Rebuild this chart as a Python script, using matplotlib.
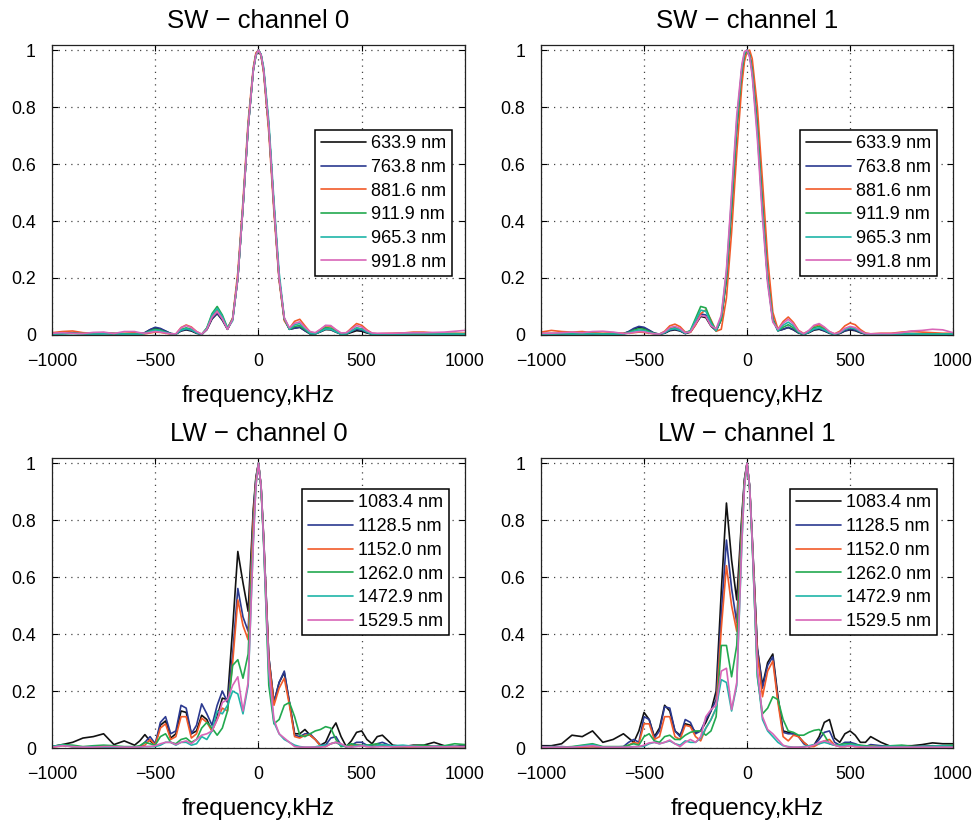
import matplotlib
matplotlib.use('Agg')
import matplotlib.pyplot as plt

plt.rcParams['font.family'] = ['Liberation Sans', 'DejaVu Sans']

# frequency grid (kHz): coarse in the wings, finer around the main lobe
freq = [-1000, -950, -900, -850, -800, -750, -700, -650,
        -600, -575, -550, -525, -500, -475, -450,
        -425, -400, -375, -350, -325, -300, -275,
        -250, -225, -200, -175, -150, -125, -100,
        -75, -50, -25, -12.5, 0, 12.5, 25, 50, 75,
        100, 125, 150, 175, 200, 225, 250,
        275, 300, 325, 350, 375, 400, 425,
        450, 475, 500, 525, 550, 575, 600,
        650, 700, 750, 800, 850, 900, 950, 1000]

sw_labels = ['633.9 nm', '763.8 nm', '881.6 nm', '911.9 nm', '965.3 nm', '991.8 nm']
lw_labels = ['1083.4 nm', '1128.5 nm', '1152.0 nm', '1262.0 nm', '1472.9 nm', '1529.5 nm']

# ---------------- SW, channel 0 ----------------
sw0_633 = [0.005, 0.006, 0.008, 0.006, 0.004, 0.006, 0.005, 0.004,
           0.003, 0.004, 0.008, 0.018, 0.025, 0.021, 0.013,
           0.005, 0.003, 0.014, 0.018, 0.014, 0.006, 0.002,
           0.019, 0.056, 0.075, 0.052, 0.020, 0.055, 0.200,
           0.450, 0.730, 0.930, 0.983, 1.000, 0.983, 0.930, 0.730, 0.450,
           0.200, 0.055, 0.020, 0.024, 0.027, 0.015, 0.004,
           0.004, 0.011, 0.019, 0.018, 0.010, 0.003, 0.003,
           0.009, 0.015, 0.013, 0.007, 0.003, 0.003, 0.003,
           0.004, 0.005, 0.006, 0.005, 0.004, 0.005, 0.005, 0.004]
sw0_763 = [0.004, 0.005, 0.006, 0.005, 0.004, 0.005, 0.004, 0.004,
           0.003, 0.004, 0.008, 0.019, 0.027, 0.023, 0.014,
           0.005, 0.003, 0.015, 0.020, 0.016, 0.007, 0.002,
           0.019, 0.058, 0.077, 0.054, 0.020, 0.055, 0.200,
           0.450, 0.730, 0.930, 0.983, 1.000, 0.983, 0.930, 0.730, 0.450,
           0.200, 0.055, 0.020, 0.024, 0.027, 0.015, 0.004,
           0.004, 0.012, 0.021, 0.020, 0.011, 0.003, 0.004,
           0.012, 0.020, 0.017, 0.009, 0.003, 0.003, 0.003,
           0.004, 0.004, 0.005, 0.005, 0.004, 0.004, 0.004, 0.004]
sw0_881 = [0.008, 0.012, 0.014, 0.008, 0.006, 0.008, 0.005, 0.006,
           0.008, 0.005, 0.004, 0.007, 0.010, 0.009, 0.006,
           0.003, 0.003, 0.026, 0.035, 0.028, 0.012, 0.002,
           0.022, 0.065, 0.087, 0.060, 0.022, 0.060, 0.220,
           0.470, 0.750, 0.940, 0.990, 1.000, 0.980, 0.920, 0.710, 0.430,
           0.190, 0.050, 0.023, 0.048, 0.055, 0.032, 0.010,
           0.006, 0.019, 0.032, 0.031, 0.017, 0.005, 0.007,
           0.024, 0.040, 0.034, 0.018, 0.006, 0.004, 0.005,
           0.006, 0.007, 0.010, 0.010, 0.007, 0.005, 0.005, 0.006]
sw0_911 = [0.004, 0.005, 0.006, 0.005, 0.004, 0.005, 0.005, 0.004,
           0.003, 0.003, 0.006, 0.014, 0.020, 0.017, 0.010,
           0.004, 0.003, 0.019, 0.025, 0.020, 0.009, 0.002,
           0.025, 0.075, 0.100, 0.070, 0.025, 0.057, 0.200,
           0.450, 0.730, 0.930, 0.983, 1.000, 0.983, 0.930, 0.730, 0.450,
           0.200, 0.057, 0.020, 0.030, 0.033, 0.019, 0.005,
           0.004, 0.015, 0.026, 0.024, 0.013, 0.003, 0.004,
           0.015, 0.025, 0.021, 0.011, 0.003, 0.003, 0.003,
           0.003, 0.004, 0.004, 0.004, 0.003, 0.004, 0.004, 0.004]
sw0_965 = [0.003, 0.004, 0.005, 0.004, 0.003, 0.004, 0.004, 0.003,
           0.003, 0.003, 0.005, 0.012, 0.017, 0.014, 0.009,
           0.004, 0.003, 0.017, 0.022, 0.018, 0.008, 0.002,
           0.023, 0.070, 0.093, 0.065, 0.023, 0.050, 0.200,
           0.450, 0.730, 0.930, 0.980, 1.000, 0.985, 0.940, 0.750, 0.470,
           0.220, 0.060, 0.020, 0.036, 0.040, 0.023, 0.006,
           0.004, 0.012, 0.021, 0.020, 0.011, 0.003, 0.004,
           0.014, 0.024, 0.020, 0.011, 0.003, 0.003, 0.003,
           0.003, 0.003, 0.004, 0.004, 0.003, 0.003, 0.003, 0.003]
sw0_991 = [0.006, 0.008, 0.006, 0.005, 0.009, 0.010, 0.005, 0.012,
           0.012, 0.008, 0.006, 0.009, 0.012, 0.010, 0.007,
           0.004, 0.004, 0.025, 0.033, 0.026, 0.012, 0.003,
           0.020, 0.062, 0.082, 0.057, 0.020, 0.055, 0.200,
           0.450, 0.730, 0.930, 0.983, 1.000, 0.983, 0.930, 0.730, 0.450,
           0.200, 0.060, 0.025, 0.041, 0.046, 0.027, 0.012,
           0.008, 0.020, 0.034, 0.033, 0.019, 0.007, 0.008,
           0.020, 0.033, 0.028, 0.015, 0.007, 0.006, 0.006,
           0.006, 0.007, 0.008, 0.008, 0.009, 0.010, 0.013, 0.016]

# ---------------- SW, channel 1 ----------------
sw1_633 = [0.005, 0.005, 0.004, 0.004, 0.005, 0.004, 0.004, 0.004,
           0.004, 0.011, 0.020, 0.027, 0.024, 0.015, 0.006,
           0.003, 0.006, 0.015, 0.018, 0.014, 0.005, 0.010,
           0.037, 0.065, 0.061, 0.031, 0.015, 0.055, 0.200,
           0.450, 0.730, 0.930, 0.983, 1.000, 0.983, 0.930, 0.730, 0.450,
           0.200, 0.055, 0.015, 0.020, 0.026, 0.018, 0.007,
           0.002, 0.008, 0.017, 0.020, 0.014, 0.006, 0.002,
           0.005, 0.014, 0.018, 0.015, 0.008, 0.003, 0.002,
           0.003, 0.004, 0.005, 0.005, 0.004, 0.004, 0.004, 0.004]
sw1_763 = [0.004, 0.004, 0.004, 0.004, 0.004, 0.004, 0.004, 0.004,
           0.005, 0.012, 0.023, 0.030, 0.027, 0.017, 0.006,
           0.003, 0.007, 0.017, 0.020, 0.015, 0.005, 0.012,
           0.043, 0.074, 0.070, 0.035, 0.015, 0.055, 0.200,
           0.450, 0.730, 0.930, 0.983, 1.000, 0.983, 0.930, 0.730, 0.450,
           0.200, 0.055, 0.015, 0.020, 0.027, 0.019, 0.007,
           0.002, 0.009, 0.019, 0.022, 0.015, 0.007, 0.002,
           0.006, 0.015, 0.020, 0.017, 0.009, 0.003, 0.002,
           0.003, 0.003, 0.004, 0.004, 0.004, 0.003, 0.003, 0.003]
sw1_881 = [0.010, 0.016, 0.012, 0.010, 0.012, 0.008, 0.006, 0.008,
           0.006, 0.006, 0.008, 0.010, 0.009, 0.006, 0.004,
           0.003, 0.013, 0.032, 0.038, 0.029, 0.010, 0.009,
           0.035, 0.075, 0.088, 0.053, 0.013, 0.020, 0.130,
           0.360, 0.640, 0.880, 0.960, 0.995, 1.000, 0.970, 0.800, 0.540,
           0.270, 0.080, 0.020, 0.047, 0.063, 0.044, 0.016,
           0.005, 0.014, 0.031, 0.036, 0.025, 0.011, 0.004,
           0.013, 0.032, 0.042, 0.036, 0.019, 0.007, 0.004,
           0.006, 0.006, 0.010, 0.013, 0.010, 0.008, 0.006, 0.006]
sw1_911 = [0.004, 0.004, 0.005, 0.004, 0.004, 0.005, 0.004, 0.004,
           0.004, 0.009, 0.017, 0.022, 0.020, 0.012, 0.005,
           0.003, 0.009, 0.022, 0.026, 0.020, 0.007, 0.016,
           0.058, 0.100, 0.095, 0.048, 0.015, 0.055, 0.200,
           0.450, 0.730, 0.930, 0.983, 1.000, 0.983, 0.930, 0.730, 0.450,
           0.200, 0.055, 0.015, 0.027, 0.036, 0.025, 0.009,
           0.002, 0.012, 0.026, 0.030, 0.021, 0.009, 0.002,
           0.008, 0.020, 0.026, 0.022, 0.012, 0.004, 0.002,
           0.003, 0.003, 0.004, 0.004, 0.004, 0.003, 0.004, 0.004]
sw1_965 = [0.003, 0.003, 0.004, 0.003, 0.003, 0.004, 0.003, 0.003,
           0.003, 0.007, 0.013, 0.017, 0.015, 0.009, 0.004,
           0.003, 0.008, 0.019, 0.022, 0.017, 0.006, 0.014,
           0.051, 0.087, 0.083, 0.041, 0.015, 0.065, 0.220,
           0.480, 0.750, 0.940, 0.990, 1.000, 0.980, 0.920, 0.710, 0.430,
           0.190, 0.050, 0.015, 0.034, 0.045, 0.032, 0.011,
           0.002, 0.010, 0.021, 0.025, 0.018, 0.008, 0.002,
           0.008, 0.020, 0.026, 0.022, 0.012, 0.004, 0.002,
           0.003, 0.003, 0.003, 0.004, 0.003, 0.003, 0.003, 0.003]
sw1_991 = [0.006, 0.006, 0.008, 0.010, 0.008, 0.012, 0.013, 0.010,
           0.005, 0.006, 0.009, 0.012, 0.011, 0.007, 0.004,
           0.003, 0.011, 0.026, 0.030, 0.023, 0.008, 0.011,
           0.040, 0.068, 0.065, 0.032, 0.022, 0.070, 0.230,
           0.500, 0.770, 0.950, 0.995, 1.000, 0.975, 0.910, 0.690, 0.410,
           0.180, 0.045, 0.020, 0.041, 0.055, 0.039, 0.014,
           0.004, 0.016, 0.034, 0.040, 0.028, 0.012, 0.004,
           0.009, 0.023, 0.030, 0.026, 0.014, 0.005, 0.004,
           0.005, 0.005, 0.008, 0.014, 0.016, 0.020, 0.018, 0.008]

# ---------------- LW, channel 0 ----------------
lw0_1083 = [0.005, 0.012, 0.020, 0.035, 0.040, 0.050, 0.012, 0.025,
            0.010, 0.025, 0.047, 0.025, 0.010, 0.080, 0.095,
            0.035, 0.050, 0.130, 0.125, 0.050, 0.060, 0.115,
            0.100, 0.060, 0.110, 0.175, 0.170, 0.420, 0.690,
            0.580, 0.480, 0.840, 0.950, 1.000, 0.920, 0.740, 0.320, 0.160,
            0.230, 0.265, 0.160, 0.050, 0.050, 0.065, 0.045,
            0.030, 0.010, 0.020, 0.060, 0.088, 0.040, 0.005,
            0.025, 0.055, 0.060, 0.030, 0.015, 0.040, 0.045,
            0.010, 0.005, 0.010, 0.010, 0.020, 0.008, 0.005, 0.010]
lw0_1128 = [0.005, 0.010, 0.005, 0.003, 0.003, 0.003, 0.003, 0.003,
            0.003, 0.005, 0.020, 0.040, 0.015, 0.090, 0.110,
            0.050, 0.060, 0.150, 0.140, 0.050, 0.080, 0.155,
            0.120, 0.080, 0.150, 0.200, 0.160, 0.330, 0.560,
            0.460, 0.410, 0.820, 0.945, 1.000, 0.920, 0.740, 0.320, 0.160,
            0.230, 0.270, 0.160, 0.045, 0.040, 0.050, 0.050,
            0.030, 0.010, 0.010, 0.035, 0.040, 0.010, 0.004,
            0.010, 0.020, 0.020, 0.010, 0.008, 0.015, 0.020,
            0.005, 0.004, 0.005, 0.005, 0.006, 0.005, 0.005, 0.005]
lw0_1152 = [0.003, 0.008, 0.005, 0.003, 0.003, 0.003, 0.003, 0.003,
            0.003, 0.004, 0.010, 0.030, 0.010, 0.070, 0.085,
            0.030, 0.040, 0.110, 0.110, 0.035, 0.050, 0.105,
            0.090, 0.060, 0.100, 0.140, 0.130, 0.300, 0.520,
            0.430, 0.380, 0.800, 0.940, 1.000, 0.915, 0.730, 0.310, 0.150,
            0.210, 0.245, 0.150, 0.040, 0.035, 0.045, 0.045,
            0.030, 0.008, 0.005, 0.015, 0.020, 0.010, 0.005,
            0.008, 0.012, 0.010, 0.005, 0.005, 0.010, 0.012,
            0.004, 0.004, 0.004, 0.004, 0.004, 0.004, 0.004, 0.004]
lw0_1262 = [0.005, 0.012, 0.010, 0.005, 0.008, 0.010, 0.008, 0.005,
            0.005, 0.008, 0.020, 0.015, 0.010, 0.040, 0.050,
            0.020, 0.015, 0.030, 0.035, 0.020, 0.030, 0.070,
            0.090, 0.070, 0.045, 0.070, 0.130, 0.290, 0.310,
            0.245, 0.330, 0.750, 0.930, 1.000, 0.915, 0.720, 0.220, 0.085,
            0.100, 0.150, 0.160, 0.110, 0.045, 0.040, 0.050,
            0.060, 0.065, 0.075, 0.070, 0.030, 0.005, 0.008,
            0.015, 0.010, 0.008, 0.010, 0.012, 0.015, 0.010,
            0.005, 0.005, 0.008, 0.010, 0.005, 0.008, 0.015, 0.012]
lw0_1472 = [0.005, 0.010, 0.005, 0.003, 0.005, 0.003, 0.003, 0.003,
            0.003, 0.003, 0.005, 0.005, 0.005, 0.010, 0.020,
            0.020, 0.010, 0.020, 0.020, 0.010, 0.015, 0.040,
            0.030, 0.060, 0.130, 0.120, 0.150, 0.200, 0.190,
            0.120, 0.220, 0.720, 0.920, 1.000, 0.915, 0.720, 0.260, 0.090,
            0.050, 0.030, 0.020, 0.010, 0.005, 0.003, 0.003,
            0.004, 0.008, 0.010, 0.015, 0.020, 0.010, 0.005,
            0.005, 0.008, 0.010, 0.008, 0.005, 0.008, 0.012,
            0.008, 0.010, 0.006, 0.004, 0.005, 0.005, 0.006, 0.005]
lw0_1529 = [0.003, 0.008, 0.005, 0.003, 0.003, 0.005, 0.005, 0.003,
            0.003, 0.004, 0.005, 0.005, 0.008, 0.015, 0.020,
            0.020, 0.012, 0.020, 0.025, 0.015, 0.030, 0.045,
            0.050, 0.060, 0.100, 0.160, 0.170, 0.220, 0.250,
            0.130, 0.230, 0.720, 0.920, 1.000, 0.920, 0.730, 0.280, 0.100,
            0.050, 0.035, 0.020, 0.005, 0.003, 0.003, 0.003,
            0.003, 0.003, 0.005, 0.015, 0.020, 0.015, 0.005,
            0.003, 0.005, 0.008, 0.005, 0.003, 0.004, 0.005,
            0.004, 0.005, 0.005, 0.004, 0.005, 0.004, 0.005, 0.005]

# ---------------- LW, channel 1 ----------------
lw1_1083 = [0.008, 0.008, 0.015, 0.045, 0.040, 0.060, 0.020, 0.030,
            0.050, 0.035, 0.020, 0.060, 0.125, 0.100, 0.040,
            0.070, 0.150, 0.130, 0.060, 0.045, 0.085, 0.080,
            0.055, 0.060, 0.090, 0.130, 0.200, 0.550, 0.860,
            0.660, 0.520, 0.820, 0.945, 1.000, 0.920, 0.740, 0.350, 0.220,
            0.300, 0.330, 0.180, 0.060, 0.055, 0.050, 0.040,
            0.020, 0.005, 0.010, 0.040, 0.090, 0.100, 0.035,
            0.020, 0.050, 0.060, 0.045, 0.020, 0.020, 0.040,
            0.020, 0.005, 0.008, 0.008, 0.012, 0.018, 0.015, 0.015]
lw1_1128 = [0.005, 0.005, 0.005, 0.003, 0.005, 0.005, 0.003, 0.003,
            0.005, 0.020, 0.030, 0.020, 0.110, 0.100, 0.035,
            0.060, 0.145, 0.140, 0.060, 0.040, 0.100, 0.090,
            0.050, 0.060, 0.100, 0.130, 0.170, 0.470, 0.730,
            0.560, 0.440, 0.800, 0.940, 1.000, 0.920, 0.740, 0.350, 0.210,
            0.290, 0.320, 0.170, 0.055, 0.050, 0.050, 0.040,
            0.015, 0.005, 0.010, 0.030, 0.055, 0.060, 0.020,
            0.010, 0.020, 0.020, 0.015, 0.008, 0.005, 0.012,
            0.008, 0.005, 0.005, 0.005, 0.006, 0.008, 0.006, 0.006]
lw1_1152 = [0.003, 0.003, 0.003, 0.003, 0.003, 0.005, 0.003, 0.003,
            0.003, 0.010, 0.020, 0.015, 0.085, 0.085, 0.030,
            0.040, 0.110, 0.110, 0.040, 0.030, 0.080, 0.075,
            0.040, 0.025, 0.070, 0.100, 0.140, 0.420, 0.640,
            0.500, 0.410, 0.790, 0.935, 1.000, 0.915, 0.730, 0.330, 0.180,
            0.270, 0.305, 0.160, 0.040, 0.025, 0.045, 0.040,
            0.020, 0.005, 0.005, 0.015, 0.025, 0.030, 0.010,
            0.005, 0.005, 0.008, 0.005, 0.003, 0.003, 0.008,
            0.003, 0.003, 0.004, 0.004, 0.004, 0.005, 0.004, 0.004]
lw1_1262 = [0.003, 0.005, 0.003, 0.005, 0.010, 0.015, 0.005, 0.005,
            0.005, 0.010, 0.015, 0.010, 0.040, 0.050, 0.025,
            0.020, 0.040, 0.045, 0.030, 0.030, 0.045, 0.055,
            0.060, 0.060, 0.045, 0.060, 0.110, 0.360, 0.360,
            0.250, 0.360, 0.770, 0.930, 1.000, 0.915, 0.720, 0.250, 0.120,
            0.140, 0.180, 0.170, 0.100, 0.060, 0.055, 0.045,
            0.045, 0.055, 0.062, 0.065, 0.045, 0.015, 0.010,
            0.012, 0.015, 0.015, 0.012, 0.010, 0.008, 0.006,
            0.005, 0.008, 0.010, 0.006, 0.005, 0.006, 0.008, 0.010]
lw1_1472 = [0.003, 0.003, 0.003, 0.003, 0.008, 0.012, 0.003, 0.003,
            0.003, 0.003, 0.005, 0.005, 0.006, 0.015, 0.020,
            0.015, 0.020, 0.025, 0.015, 0.010, 0.025, 0.020,
            0.020, 0.035, 0.070, 0.100, 0.140, 0.240, 0.230,
            0.130, 0.220, 0.720, 0.920, 1.000, 0.915, 0.720, 0.260, 0.100,
            0.060, 0.040, 0.020, 0.008, 0.005, 0.003, 0.003,
            0.005, 0.008, 0.012, 0.015, 0.020, 0.015, 0.010,
            0.008, 0.010, 0.012, 0.010, 0.006, 0.005, 0.005,
            0.005, 0.006, 0.005, 0.004, 0.005, 0.006, 0.008, 0.005]
lw1_1529 = [0.003, 0.003, 0.003, 0.003, 0.005, 0.008, 0.003, 0.003,
            0.003, 0.003, 0.004, 0.005, 0.010, 0.018, 0.020,
            0.015, 0.020, 0.028, 0.015, 0.005, 0.020, 0.030,
            0.020, 0.040, 0.110, 0.135, 0.150, 0.270, 0.280,
            0.135, 0.230, 0.730, 0.920, 1.000, 0.920, 0.730, 0.280, 0.110,
            0.065, 0.050, 0.030, 0.010, 0.003, 0.003, 0.003,
            0.003, 0.005, 0.010, 0.020, 0.025, 0.020, 0.010,
            0.005, 0.005, 0.008, 0.005, 0.004, 0.003, 0.003,
            0.003, 0.003, 0.003, 0.003, 0.003, 0.003, 0.003, 0.003]

colors = ['#111111', '#2b3990', '#f15a29', '#22a94f', '#1fb5a8', '#d866b8']

panels = [
    ('SW \u2212 channel 0', [sw0_633, sw0_763, sw0_881, sw0_911, sw0_965, sw0_991], sw_labels),
    ('SW \u2212 channel 1', [sw1_633, sw1_763, sw1_881, sw1_911, sw1_965, sw1_991], sw_labels),
    ('LW \u2212 channel 0', [lw0_1083, lw0_1128, lw0_1152, lw0_1262, lw0_1472, lw0_1529], lw_labels),
    ('LW \u2212 channel 1', [lw1_1083, lw1_1128, lw1_1152, lw1_1262, lw1_1472, lw1_1529], lw_labels),
]

for _, curves, _ in panels:
    for c in curves:
        assert len(c) == len(freq), len(c)

# axes rectangles [left, bottom, width, height] in figure fractions
rects = [[0.0533, 0.5925, 0.4236, 0.3528],
         [0.5549, 0.5925, 0.4226, 0.3528],
         [0.0533, 0.0900, 0.4236, 0.3528],
         [0.5549, 0.0900, 0.4226, 0.3528]]
# upper-right corner of each legend box, axes coords
leg_anchor = [(0.968, 0.707), (0.961, 0.707), (0.961, 0.893), (0.961, 0.893)]

fig = plt.figure(figsize=(9.75, 8.22), dpi=100)

for (title, curves, labels), rect, anchor in zip(panels, rects, leg_anchor):
    ax = fig.add_axes(rect)
    for y, col, lab in zip(curves, colors, labels):
        ax.plot(freq, y, color=col, lw=1.2, label=lab,
                solid_joinstyle='round', solid_capstyle='round')
    ax.set_xlim(-1000, 1000)
    ax.set_ylim(0, 1.018)
    ax.set_xticks([-1000, -500, 0, 500, 1000])
    ax.set_yticks([0, 0.2, 0.4, 0.6, 0.8, 1])
    ax.set_yticklabels(['0', '0.2', '0.4', '0.6', '0.8', '1'])
    ax.tick_params(direction='in', top=True, right=True, length=4, width=0.8,
                   labelsize=12.8, colors='k')
    ax.tick_params(axis='x', pad=13)
    ax.tick_params(axis='y', pad=11.5)
    ax.grid(True, linestyle=(0, (1, 4)), color='#444444', linewidth=0.9)
    for s in ax.spines.values():
        s.set_linewidth(0.9)
        s.set_color('#222222')
    ax.set_title(title, fontsize=18.5, pad=12)
    ax.set_xlabel('frequency,kHz', fontsize=17.5, labelpad=10.5)
    leg = ax.legend(loc='upper right', bbox_to_anchor=anchor, borderaxespad=0,
                    fontsize=13, handlelength=2.5, handletextpad=0.3,
                    labelspacing=0.37, borderpad=0.3, fancybox=False,
                    framealpha=1, edgecolor='k')
    leg.get_frame().set_linewidth(1.1)

fig.savefig('out.png', dpi=100)
